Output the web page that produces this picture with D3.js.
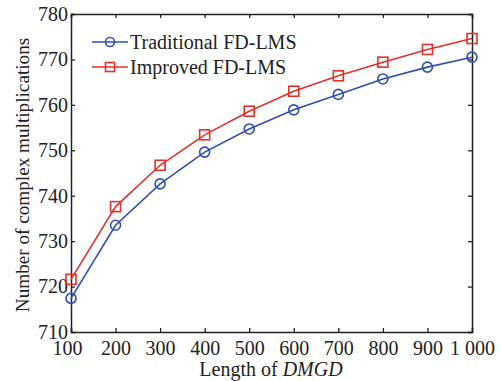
<!DOCTYPE html>
<html>
<head>
<meta charset="utf-8">
<script src="https://cdn.jsdelivr.net/npm/d3@7"></script>
<style>
  body { margin: 0; background: #fff; }
  text { font-family: "Liberation Serif", "Times New Roman", serif; fill: #222; }
</style>
</head>
<body>
<div id="chart"></div>
<script>
// data
const lengths = [100, 200, 300, 400, 500, 600, 700, 800, 900, 1000];
const traditional = [717.4, 733.5, 742.6, 749.6, 754.7, 758.9, 762.3, 765.7, 768.3, 770.5];
const improved = [721.6, 737.6, 746.7, 753.4, 758.6, 763.0, 766.4, 769.4, 772.2, 774.6];
const yTicks = [710, 720, 730, 740, 750, 760, 770, 780];
const xTickLabels = ['100', '200', '300', '400', '500', '600', '700', '800', '900', '1 000'];
const seriesNames = ['Traditional FD-LMS', 'Improved FD-LMS'];

const width = 501, height = 381;
const margin = {top: 14, right: 29, bottom: 49, left: 71};
const w = width - margin.left - margin.right;
const h = height - margin.top - margin.bottom;
const fs = 20;

const svg = d3.select('#chart').append('svg')
    .attr('width', width).attr('height', height);

const g = svg.append('g').attr('transform', `translate(${margin.left},${margin.top})`);

const x = d3.scaleLinear().domain([100, 1000]).range([0, w]);
const y = d3.scaleLinear().domain([710, 780]).range([h, 0]);

// axes, ticks pointing inward on all four sides
const xAxis = g.append('g').attr('transform', `translate(0,${h})`)
    .call(d3.axisBottom(x).tickValues(lengths).tickSize(-4).tickPadding(9)
        .tickFormat((d, i) => xTickLabels[i]));
const xTop = g.append('g')
    .call(d3.axisTop(x).tickValues(lengths).tickSize(-4).tickFormat(''));
const yAxis = g.append('g')
    .call(d3.axisLeft(y).tickValues(yTicks).tickSize(-4).tickPadding(3));
const yRight = g.append('g').attr('transform', `translate(${w},0)`)
    .call(d3.axisRight(y).tickValues(yTicks).tickSize(-4).tickFormat(''));

[xAxis, xTop, yAxis, yRight].forEach(a => {
    a.select('.domain').attr('stroke', '#222').attr('stroke-width', 1.5);
    a.selectAll('.tick line').attr('stroke', '#222').attr('stroke-width', 1.3);
    a.selectAll('.tick text').attr('font-size', fs).attr('font-family', '"Liberation Serif", serif').attr('fill', '#222');
});
// first x label sits a little left so it clears the 710 label
xAxis.selectAll('.tick text').filter((d, i) => i === 0).attr('dx', -4);
yAxis.selectAll('.tick text').attr('dy', '0.32em');

const blue = '#2f4fb0', red = '#e3312b';
const series = [
    {name: seriesNames[0], values: traditional, color: blue, marker: 'circle'},
    {name: seriesNames[1], values: improved, color: red, marker: 'square'}
];

const line = d3.line().x((d, i) => x(lengths[i])).y(d => y(d));

function drawMarker(sel, type, color, r) {
    if (type === 'circle') {
        sel.append('circle').attr('r', r)
            .attr('fill', 'none').attr('stroke', color).attr('stroke-width', 1.6);
    } else {
        sel.append('rect').attr('x', -r).attr('y', -r).attr('width', 2 * r).attr('height', 2 * r)
            .attr('fill', 'none').attr('stroke', color).attr('stroke-width', 1.6);
    }
}

series.forEach(s => {
    g.append('path').datum(s.values)
        .attr('d', line).attr('fill', 'none')
        .attr('stroke', s.color).attr('stroke-width', 1.6);
    g.selectAll(null).data(s.values).enter().append('g')
        .attr('transform', (d, i) => `translate(${x(lengths[i])},${y(d)})`)
        .each(function() { drawMarker(d3.select(this), s.marker, s.color, 5); });
});

// legend
const legend = g.append('g').attr('transform', 'translate(21,28)');
series.forEach((s, i) => {
    const row = legend.append('g').attr('transform', `translate(0,${i * 25})`);
    row.append('line').attr('x1', 0).attr('x2', 36).attr('y1', 0).attr('y2', 0)
        .attr('stroke', s.color).attr('stroke-width', 1.6);
    const m = row.append('g').attr('transform', 'translate(18,0)');
    drawMarker(m, s.marker, s.color, 4.5);
    row.append('text').attr('x', 38).attr('y', 0).attr('dy', '0.35em')
        .attr('font-size', fs).text(s.name);
});

// axis titles
const xt = svg.append('text')
    .attr('x', 271).attr('y', 376)
    .attr('text-anchor', 'middle').attr('font-size', fs);
xt.append('tspan').text('Length of ');
xt.append('tspan').attr('font-style', 'italic').text('DMGD');

svg.append('text')
    .attr('transform', 'translate(29,175) rotate(-90)')
    .attr('text-anchor', 'middle').attr('font-size', 19.2)
    .text('Number of complex multiplications');
</script>
</body>
</html>
